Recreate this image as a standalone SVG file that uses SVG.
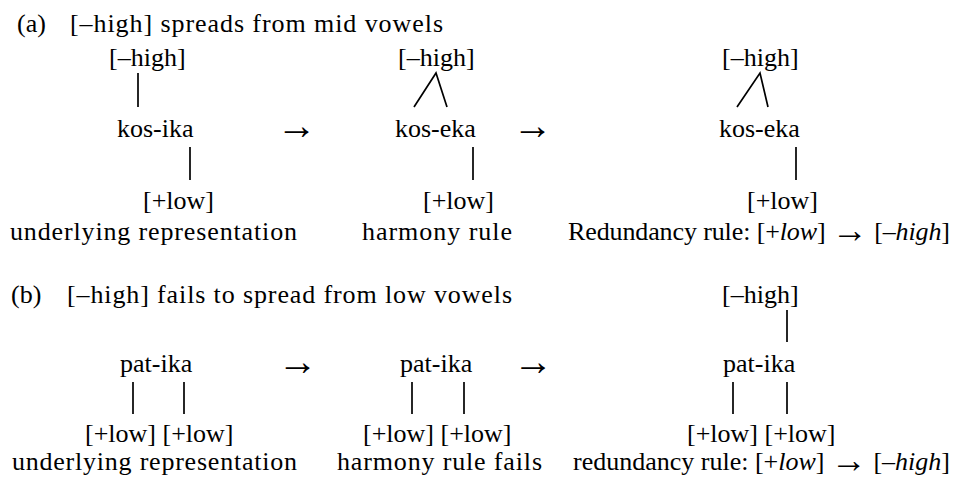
<svg xmlns="http://www.w3.org/2000/svg" width="955" height="486" viewBox="0 0 955 486">
<style>
text{font-family:"Liberation Serif","Times New Roman",serif;font-size:26px;fill:#000}
.it{font-style:italic}
.ar{font-size:36px}
.arr{font-size:40px}
.ln{stroke:#000;stroke-width:1.7;fill:none;stroke-linecap:butt}
</style>
<rect width="955" height="486" fill="#fff"/>
<g id="titles">
<text x="17" y="32">(a)</text>
<text x="70" y="32" textLength="373" lengthAdjust="spacing">[–high] spreads from mid vowels</text>
<text x="11" y="303">(b)</text>
<text x="67" y="303" textLength="445" lengthAdjust="spacing">[–high] fails to spread from low vowels</text>
</g>
<g id="a1">
<text x="109" y="66">[–high]</text>
<text x="117" y="137">kos-ika</text>
<text x="143" y="209">[+low]</text>
<text x="10" y="240" textLength="287" lengthAdjust="spacing">underlying representation</text>
</g>
<g id="a2">
<text x="398" y="66">[–high]</text>
<text x="395" y="137">kos-eka</text>
<text x="423" y="209">[+low]</text>
<text x="362" y="240" textLength="150" lengthAdjust="spacing">harmony rule</text>
</g>
<g id="a3">
<text x="722" y="66">[–high]</text>
<text x="719" y="137">kos-eka</text>
<text x="747" y="209">[+low]</text>
<text x="568" y="240" textLength="382" lengthAdjust="spacing">Redundancy rule: [+<tspan class="it">low</tspan>] <tspan class="ar" dy="2">→</tspan><tspan dy="-2"> [–</tspan><tspan class="it">high</tspan>]</text>
</g>
<g id="b1">
<text x="120" y="372">pat-ika</text>
<text x="85" y="442">[+low] [+low]</text>
<text x="12" y="470" textLength="285" lengthAdjust="spacing">underlying representation</text>
</g>
<g id="b2">
<text x="400" y="372">pat-ika</text>
<text x="363" y="442">[+low] [+low]</text>
<text x="337" y="470" textLength="205" lengthAdjust="spacing">harmony rule fails</text>
</g>
<g id="b3">
<text x="722" y="303">[–high]</text>
<text x="723" y="372">pat-ika</text>
<text x="687" y="442">[+low] [+low]</text>
<text x="573" y="470" textLength="377" lengthAdjust="spacing">redundancy rule: [+<tspan class="it">low</tspan>] <tspan class="ar" dy="2">→</tspan><tspan dy="-2"> [–</tspan><tspan class="it">high</tspan>]</text>
</g>
<g id="arrows" text-anchor="middle">
<text class="arr" x="296.5" y="139">→</text>
<text class="arr" x="532.5" y="139">→</text>
<text class="arr" x="297.5" y="375">→</text>
<text class="arr" x="533" y="375">→</text>
</g>
<g id="connectors" class="ln">
<line class="ln" x1="138" y1="73" x2="138" y2="107"/>
<line class="ln" x1="190" y1="147" x2="190" y2="180"/>
<polyline class="ln" points="414,107 436,73 447,107"/>
<line class="ln" x1="473" y1="147" x2="473" y2="180"/>
<polyline class="ln" points="737,107 760,73 768,107"/>
<line class="ln" x1="796" y1="147" x2="796" y2="180"/>
<line class="ln" x1="133" y1="382" x2="133" y2="414"/>
<line class="ln" x1="184" y1="382" x2="184" y2="414"/>
<line class="ln" x1="412" y1="382" x2="412" y2="414"/>
<line class="ln" x1="464" y1="382" x2="464" y2="414"/>
<line class="ln" x1="787" y1="310" x2="787" y2="342"/>
<line class="ln" x1="733" y1="382" x2="733" y2="414"/>
<line class="ln" x1="787" y1="382" x2="787" y2="414"/>
</g>
</svg>
